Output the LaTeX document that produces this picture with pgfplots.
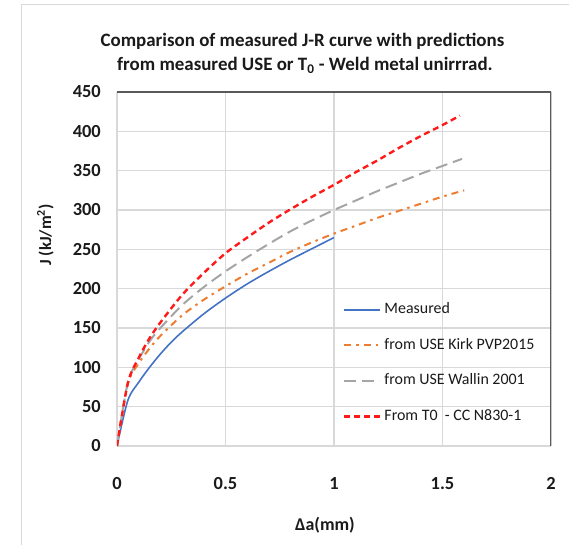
\documentclass[border=0pt]{standalone}
\usepackage{fontspec}
\setmainfont{Carlito}
\usepackage{pgfplots}
\pgfplotsset{compat=1.18}

\definecolor{cBlue}{HTML}{4472C4}
\definecolor{cOrange}{HTML}{ED7D31}
\definecolor{cGray}{HTML}{A5A5A5}
\definecolor{cRed}{HTML}{FF1A1A}
\definecolor{cGrid}{HTML}{D9D9D9}
\definecolor{cFrame}{HTML}{595959}
\definecolor{cText}{HTML}{1A1A1A}

\begin{document}
\begin{tikzpicture}
\path[use as bounding box] (-117bp,-99bp) rectangle (452bp,446bp);
% outer chart border (only left and top visible)
\draw[cGrid, line width=1bp] (-95bp,-99bp) -- (-95bp,441bp) -- (452bp,441bp);

\begin{axis}[
  at={(0,0)}, anchor=south west,
  scale only axis,
  width=434bp, height=354bp,
  xmin=0, xmax=2, ymin=0, ymax=450,
  xtick={0,0.5,1,1.5,2},
  xticklabels={0,0.5,1,1.5,2},
  ytick={0,50,...,450},
  major tick length=0pt,
  grid=major,
  grid style={cGrid, line width=1.2bp},
  axis line style={draw=none},
  /pgf/number format/assume math mode=true,
  ticklabel style={font=\bfseries\fontsize{18.5}{18.5}\selectfont, text=cText, inner sep=0pt},
  yticklabel style={anchor=east, xshift=-16bp},
  xticklabel style={anchor=north, yshift=-31bp},
  legend cell align=left,
  legend style={draw=none, fill=none, at={(axis cs:1.027,186)}, anchor=north west,
    font=\fontsize{16}{16}\selectfont, text=cText, row sep=19.5bp,
    nodes={inner sep=0pt, text height=12bp, text depth=4bp},
    /tikz/every odd column/.append style={column sep=3bp}},
  legend image code/.code={\draw[#1] (0bp,0bp) -- (36bp,0bp);},
]
% frame of plot area
\draw[cGrid, line width=1.2bp] (rel axis cs:0,1) -- (rel axis cs:0,0) -- (rel axis cs:1,0);
\draw[cFrame, line width=1.2bp] (rel axis cs:0,1) -- (rel axis cs:1,1) -- (rel axis cs:1,0);

\addplot[cBlue, line width=1.6bp, smooth] coordinates {
  (0,0) (0.05,58) (0.1,81) (0.15,100) (0.2,117) (0.25,132) (0.3,145)
  (0.4,168) (0.5,188) (0.6,206) (0.7,222) (0.8,237) (0.9,251) (1.0,265)
};
\addlegendentry{Measured}

\addplot[cOrange, line width=2bp, smooth,
  dash pattern=on 7bp off 5bp on 2.5bp off 5bp] coordinates {
  (0,0) (0.05,79) (0.1,105) (0.15,124) (0.2,140) (0.3,166) (0.4,186)
  (0.5,203) (0.6,219) (0.7,233) (0.8,247) (0.9,259) (1.0,270) (1.1,280)
  (1.2,290) (1.3,299) (1.4,308) (1.5,317) (1.6,325)
};
\addlegendentry{from USE Kirk PVP2015}

\addplot[cGray, line width=2bp, smooth,
  dash pattern=on 12bp off 6bp] coordinates {
  (0,0) (0.05,81) (0.1,110) (0.15,133) (0.2,150) (0.3,179) (0.4,202)
  (0.5,222) (0.6,240) (0.7,257) (0.8,273) (0.9,287) (1.0,300) (1.1,312)
  (1.2,324) (1.3,335) (1.4,346) (1.5,356) (1.59,365)
};
\addlegendentry{from USE Wallin 2001}

\addplot[cRed, line width=2.4bp, smooth,
  dash pattern=on 6bp off 4bp] coordinates {
  (0,0) (0.05,80) (0.1,112) (0.15,137) (0.2,157) (0.3,192) (0.4,220)
  (0.5,245) (0.6,265) (0.7,284) (0.8,301) (0.9,317) (1.0,332) (1.1,348)
  (1.2,363) (1.3,379) (1.4,394) (1.5,408) (1.58,420)
};
\addlegendentry{From T0\ \ - CC N830-1}
\end{axis}

% title and axis labels
\node[anchor=base, inner sep=0pt, text=cText, font=\bfseries\fontsize{19}{19}\selectfont]
  at (185.5bp,399bp) {Comparison of measured J-R curve with predictions};
\node[anchor=base, inner sep=0pt, text=cText, font=\bfseries\fontsize{19}{19}\selectfont]
  at (188bp,375bp) {from measured USE or T\textsubscript{0} - Weld metal unirrrad.};
\node[rotate=90, inner sep=0pt, text=cText, font=\bfseries\fontsize{17}{17}\selectfont]
  at (-71.5bp,211bp) {J (kJ/m\textsuperscript{2})};
\node[inner sep=0pt, text=cText, font=\bfseries\fontsize{18}{18}\selectfont]
  at (208bp,-79bp) {Δa(mm)};
\end{tikzpicture}
\end{document}
